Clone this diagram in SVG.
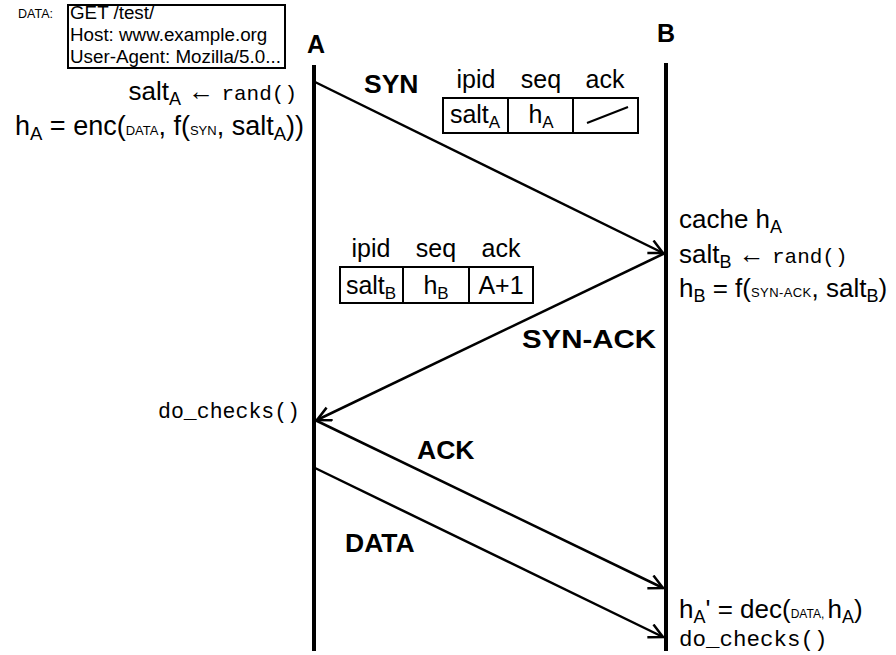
<svg xmlns="http://www.w3.org/2000/svg" width="896" height="655" viewBox="0 0 896 655">
<style>
text{font-family:"Liberation Sans",Arial,sans-serif;fill:#000}
.m{font-family:"Liberation Mono","Courier New",monospace}
.t{font-size:26px}
.h{font-size:25px;text-anchor:middle}
.lbl{font-size:26.5px;font-weight:bold}
.sc{font-size:13px}
.life{stroke:#000;stroke-width:4;fill:none}
.msg{stroke:#000;stroke-width:2.5;fill:none}
.box{fill:#fff;stroke:#000;stroke-width:2}
.cell{stroke:#000;stroke-width:2}
</style>
<defs>
<marker id="arr" markerWidth="20" markerHeight="20" refX="16" refY="8" orient="auto" markerUnits="userSpaceOnUse">
<path d="M2,1 L16,8 L2,15" fill="none" stroke="#000" stroke-width="2.5"/>
</marker>
</defs>
<rect width="896" height="655" fill="#fff"/>

<g id="data-box">
<text x="18" y="18" font-size="12.5">DATA:</text>
<rect x="68" y="5" width="217" height="63" fill="none" stroke="#000" stroke-width="2"/>
<text x="70" y="19" font-size="18.8">GET /test/</text>
<text x="70" y="41" font-size="18.8">Host: www.example.org</text>
<text x="70" y="63" font-size="18.8">User-Agent: Mozilla/5.0...</text>
</g>

<g id="A">
<text x="316" y="53" font-size="25" font-weight="bold" text-anchor="middle">A</text>
<line class="life" x1="314" y1="65" x2="314" y2="651"/>
</g>
<g id="B">
<text x="666" y="42" font-size="25" font-weight="bold" text-anchor="middle">B</text>
<line class="life" x1="666" y1="63" x2="666" y2="651"/>
</g>

<g id="connectors">
<line class="msg" x1="315" y1="82" x2="663" y2="253" marker-end="url(#arr)"/>
<line class="msg" x1="665" y1="253" x2="317" y2="420" marker-end="url(#arr)"/>
<line class="msg" x1="315" y1="420" x2="663" y2="588" marker-end="url(#arr)"/>
<line class="msg" x1="315" y1="468" x2="663" y2="637" marker-end="url(#arr)"/>
</g>

<g id="labels">
<text class="lbl" x="364" y="93">SYN</text>
<text class="lbl" x="522" y="348" textLength="134" lengthAdjust="spacingAndGlyphs">SYN-ACK</text>
<text class="lbl" x="417" y="459">ACK</text>
<text class="lbl" x="345" y="552">DATA</text>
</g>

<g id="a-notes">
<text class="t" x="297" y="100" text-anchor="end">salt<tspan font-size="18" dy="5">A</tspan><tspan dy="-5"> ← </tspan><tspan class="m" font-size="21">rand()</tspan></text>
<text x="304" y="135" font-size="27" text-anchor="end">h<tspan font-size="18.5" dy="5">A</tspan><tspan dy="-5"> = enc(</tspan><tspan class="sc">DATA</tspan>, f(<tspan class="sc">SYN</tspan>, salt<tspan font-size="18.5" dy="5">A</tspan><tspan dy="-5">))</tspan></text>
<text class="m" x="300" y="418" font-size="21.5" text-anchor="end">do_checks()</text>
</g>

<g id="syn-table">
<text class="h" x="476" y="88">ipid</text>
<text class="h" x="541" y="88">seq</text>
<text class="h" x="605" y="88">ack</text>
<rect class="box" x="443" y="98" width="195" height="35"/>
<line class="cell" x1="508" y1="98" x2="508" y2="133"/>
<line class="cell" x1="573" y1="98" x2="573" y2="133"/>
<line class="cell" x1="587" y1="123" x2="628" y2="107"/>
<text class="h" x="475" y="123">salt<tspan font-size="17" dy="5">A</tspan></text>
<text class="h" x="541" y="123">h<tspan font-size="17" dy="5">A</tspan></text>
</g>

<g id="synack-table">
<text class="h" x="371" y="257">ipid</text>
<text class="h" x="436" y="257">seq</text>
<text class="h" x="501" y="257">ack</text>
<rect class="box" x="340" y="267" width="193" height="36"/>
<line class="cell" x1="403" y1="267" x2="403" y2="303"/>
<line class="cell" x1="469" y1="267" x2="469" y2="303"/>
<text class="h" x="371" y="294">salt<tspan font-size="17" dy="5">B</tspan></text>
<text class="h" x="436" y="294">h<tspan font-size="17" dy="5">B</tspan></text>
<text class="h" x="501" y="294">A+1</text>
</g>

<g id="b-notes">
<text x="679" y="228" font-size="26">cache h<tspan font-size="18" dy="5">A</tspan></text>
<text x="679" y="263" font-size="26">salt<tspan font-size="18" dy="5">B</tspan><tspan dy="-5"> ← </tspan><tspan class="m" font-size="21">rand()</tspan></text>
<text x="679" y="297" font-size="26">h<tspan font-size="18" dy="5">B</tspan><tspan dy="-5"> = f(</tspan><tspan font-size="13" letter-spacing="0.4">SYN-ACK</tspan>, salt<tspan font-size="18" dy="5">B</tspan><tspan dy="-5">)</tspan></text>
<text x="679" y="618" font-size="26">h<tspan font-size="18" dy="5">A</tspan><tspan dy="-5">' = dec(</tspan><tspan font-size="12">DATA, </tspan>h<tspan font-size="18" dy="5">A</tspan><tspan dy="-5">)</tspan></text>
<text class="m" x="679" y="646" font-size="22.5">do_checks()</text>
</g>
</svg>
